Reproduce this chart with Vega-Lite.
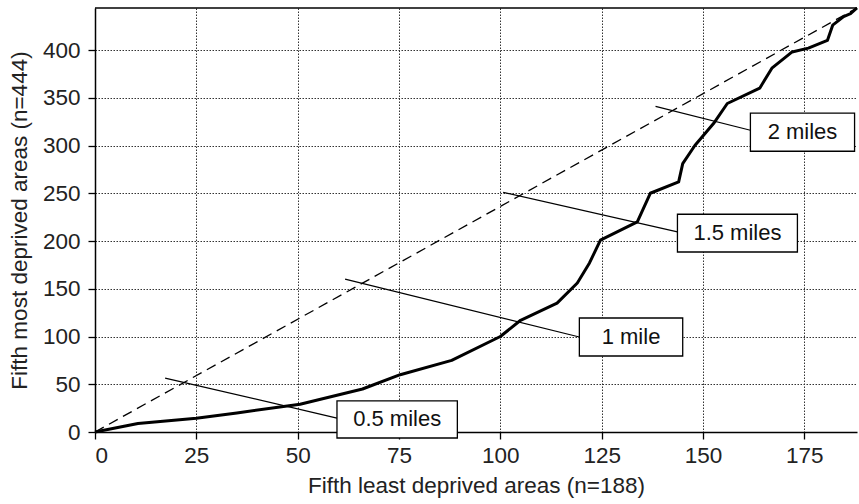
{
  "$schema": "https://vega.github.io/schema/vega-lite/v6.json",
  "width": 762,
  "height": 424,
  "autosize": {"type": "none"},
  "padding": {"left": 95, "top": 8, "right": 2, "bottom": 72},
  "background": "white",
  "config": {
    "view": {"stroke": null},
    "font": "Liberation Sans"
  },
  "datasets": {
    "curve": [
      {"x": 0, "y": 0}, {"x": 10.6, "y": 9}, {"x": 25, "y": 14.5}, {"x": 35, "y": 20},
      {"x": 50.6, "y": 29}, {"x": 66, "y": 45}, {"x": 75.3, "y": 60}, {"x": 88, "y": 75},
      {"x": 100, "y": 100}, {"x": 105, "y": 117}, {"x": 114, "y": 135}, {"x": 119, "y": 156},
      {"x": 122, "y": 177}, {"x": 124.7, "y": 201}, {"x": 133.8, "y": 220}, {"x": 137, "y": 250},
      {"x": 144, "y": 262}, {"x": 145, "y": 281}, {"x": 148, "y": 300}, {"x": 152.6, "y": 323},
      {"x": 156, "y": 344}, {"x": 164, "y": 360}, {"x": 167, "y": 381}, {"x": 172, "y": 398},
      {"x": 176, "y": 402}, {"x": 180.7, "y": 410}, {"x": 182, "y": 426}, {"x": 184.7, "y": 435},
      {"x": 186.4, "y": 438}, {"x": 188, "y": 444}
    ],
    "diag": [{"x": 0, "y": 0}, {"x": 188, "y": 444}],
    "leaders": [
      {"x": 17.3, "y": 56.5, "x2": 59.7, "y2": 14.6},
      {"x": 61.7, "y": 160, "x2": 119.5, "y2": 99.5},
      {"x": 100.7, "y": 251, "x2": 143.7, "y2": 209.5},
      {"x": 138.3, "y": 341, "x2": 161.7, "y2": 316}
    ],
    "boxes": [
      {"label": "0.5 miles", "x": 59.7, "x2": 89.4, "y": 32.5, "y2": -6.3, "cx": 74.55, "cy": 13.1},
      {"label": "1 mile", "x": 119.5, "x2": 145, "y": 119.4, "y2": 79.6, "cx": 132.25, "cy": 99.5},
      {"label": "1.5 miles", "x": 143.7, "x2": 173.3, "y": 228, "y2": 188.5, "cx": 158.5, "cy": 208.2},
      {"label": "2 miles", "x": 161.7, "x2": 187.4, "y": 334, "y2": 294, "cx": 174.55, "cy": 314}
    ],
    "top": [{"y": 444}]
  },
  "layer": [
    {
      "data": {"name": "top"},
      "mark": {"type": "rule", "color": "#000", "strokeWidth": 1.5},
      "encoding": {
        "y": {"field": "y", "type": "quantitative", "scale": {"domain": [0, 444], "nice": false, "zero": false},
          "axis": {"values": [0, 50, 100, 150, 200, 250, 300, 350, 400], "title": "Fifth most deprived areas (n=444)",
            "titlePadding": 11, "labelPadding": 8, "labelFontSize": 22.5, "titleFontSize": 22.5, "titleFontWeight": "normal",
            "labelFont": "Liberation Sans", "titleFont": "Liberation Sans", "labelColor": "#222", "titleColor": "#222",
            "domainColor": "#000", "domainWidth": 1.5, "tickColor": "#000", "tickWidth": 1.3, "tickSize": 7,
            "gridColor": "#333", "gridDash": [1.5, 1.5], "gridWidth": 1, "gridOpacity": 1}}
      }
    },
    {
      "data": {"name": "diag"},
      "mark": {"type": "line", "color": "#000", "strokeWidth": 1.3, "strokeDash": [10, 6]},
      "encoding": {
        "x": {"field": "x", "type": "quantitative", "scale": {"domain": [0, 188], "nice": false, "zero": false},
          "axis": {"values": [0, 25, 50, 75, 100, 125, 150, 175], "title": "Fifth least deprived areas (n=188)",
            "titlePadding": 8, "labelPadding": 5, "labelFontSize": 22.5, "titleFontSize": 22.5, "titleFontWeight": "normal",
            "labelFont": "Liberation Sans", "titleFont": "Liberation Sans", "labelColor": "#222", "titleColor": "#222",
            "domainColor": "#000", "domainWidth": 1.5, "tickColor": "#000", "tickWidth": 1.3, "tickSize": 7,
            "gridColor": "#333", "gridDash": [1.5, 1.5], "gridWidth": 1, "gridOpacity": 1}},
        "y": {"field": "y", "type": "quantitative"}
      }
    },
    {
      "data": {"name": "leaders"},
      "mark": {"type": "rule", "color": "#000", "strokeWidth": 1.2},
      "encoding": {
        "x": {"field": "x", "type": "quantitative"},
        "y": {"field": "y", "type": "quantitative"},
        "x2": {"field": "x2"},
        "y2": {"field": "y2"}
      }
    },
    {
      "data": {"name": "curve"},
      "mark": {"type": "line", "color": "#000", "strokeWidth": 3, "strokeJoin": "round"},
      "encoding": {
        "x": {"field": "x", "type": "quantitative"},
        "y": {"field": "y", "type": "quantitative"}
      }
    },
    {
      "data": {"name": "boxes"},
      "mark": {"type": "rect", "fill": "white", "stroke": "#000", "strokeWidth": 1.3},
      "encoding": {
        "x": {"field": "x", "type": "quantitative"},
        "x2": {"field": "x2"},
        "y": {"field": "y", "type": "quantitative"},
        "y2": {"field": "y2"}
      }
    },
    {
      "data": {"name": "boxes"},
      "mark": {"type": "text", "fontSize": 22, "color": "#111", "font": "Liberation Sans", "align": "center", "baseline": "middle"},
      "encoding": {
        "x": {"field": "cx", "type": "quantitative"},
        "y": {"field": "cy", "type": "quantitative"},
        "text": {"field": "label"}
      }
    }
  ]
}
